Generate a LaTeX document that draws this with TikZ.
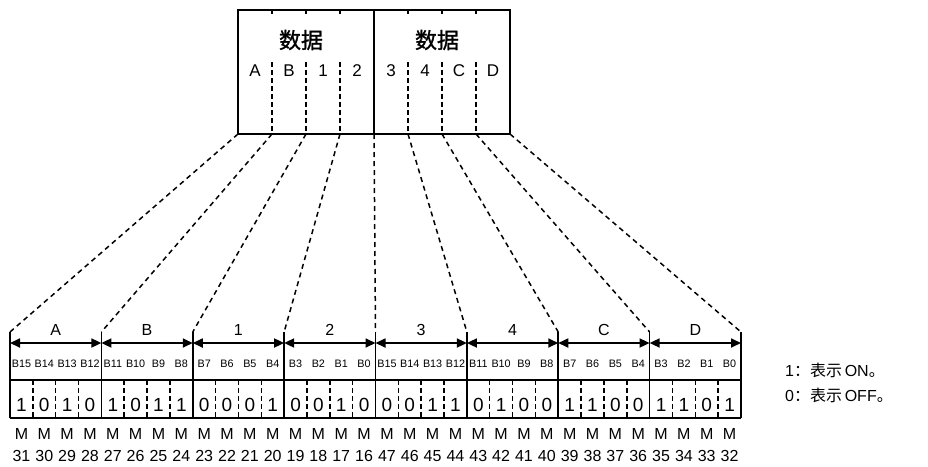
\documentclass[tikz,border=0pt]{standalone}
\usepackage{fontspec}
\setmainfont{Liberation Sans}
\newfontfamily\cjk{Noto Sans CJK SC}
\newfontfamily\cjkb[FakeBold=1.2]{Noto Sans CJK SC}
\usetikzlibrary{arrows.meta}
\begin{document}
\begin{tikzpicture}[x=1pt,y=-1pt,
  frame/.style={line width=1.7pt},
  dsh/.style={line width=1.5pt,dash pattern=on 4.5pt off 3.5pt},
  vdsh/.style={line width=1.5pt,dash pattern=on 5pt off 4pt},
  txt/.style={inner sep=0pt,anchor=center},
  big/.style={txt,font=\cjkb\fontsize{22}{22}\selectfont},
  boxlbl/.style={txt,font=\fontsize{17}{17}\selectfont},
  grplbl/.style={txt,font=\fontsize{16}{16}\selectfont},
  bitlbl/.style={txt,font=\fontsize{10.8}{10.8}\selectfont},
  vallbl/.style={txt,font=\fontsize{19}{19}\selectfont},
  mlbl/.style={txt,font=\fontsize{16}{16}\selectfont},
  leg/.style={inner sep=0pt,anchor=west,font=\fontsize{16}{16}\selectfont},
  dblarrow/.style={line width=1.7pt,{Triangle[length=10pt,width=9pt]}-{Triangle[length=10pt,width=9pt]}}
]
\useasboundingbox (0,0) rectangle (928,466);

% top box
\node[draw,frame,minimum width=272pt,minimum height=124pt,inner sep=0pt] (box) at (374,72) {};
\foreach \i in {0,...,8} {
  \coordinate (t\i) at ({238+34*\i},134);
  \coordinate (tt\i) at ({238+34*\i},10);
  \coordinate (tk\i) at ({238+34*\i},14);
  \coordinate (tm\i) at ({238+34*\i},62);
}
\foreach \i in {1,2,3,5,6,7} {
  \draw[line width=1.5pt] (tt\i) -- (tk\i);
  \draw[dsh] (tm\i) -- (t\i);
}
\draw[frame] (tt4) -- (t4);
\node[big] (d1) at (301,40) {数据};
\node[big] (d2) at (437,40) {数据};
\foreach \l [count=\k from 0] in {A,B,1,2,3,4,C,D}
  \node[boxlbl] (bl\k) at ({255+34*\k},71) {\l};

% bottom table coordinates
\foreach \i in {0,...,8} {
  \coordinate (b\i) at ({10+91.375*\i},332);
  \coordinate (bb\i) at ({10+91.375*\i},418);
}
\coordinate (hl) at (10,380);
\coordinate (hr) at (741,380);
\draw[frame] (hl) -- (hr);
\draw[frame] (bb0) -- (bb8);
\foreach \i in {0,...,8} \draw[frame] (b\i) -- (bb\i);

% connectors
\foreach \i in {0,...,8} \draw[vdsh] (t\i) -- (b\i);

% arrows and group labels
\foreach \l [count=\g from 0] in {A,B,1,2,3,4,C,D} {
  \coordinate (al\g) at ({10+91.375*\g},343);
  \coordinate (ar\g) at ({10+91.375*(\g+1)},343);
  \draw[dblarrow] (al\g) -- (ar\g);
  \node[grplbl] (gl\g) at ({10+91.375*(\g+0.5)},330) {\l};
}

% bits
\foreach \v [count=\c from 0] in {1,0,1,0, 1,0,1,1, 0,0,0,1, 0,0,1,0, 0,0,1,1, 0,1,0,0, 1,1,0,0, 1,1,0,1} {
  \pgfmathtruncatemacro{\bitno}{15-mod(\c,16)}
  \pgfmathtruncatemacro{\mno}{\c<16 ? 31-\c : 63-\c}
  \pgfmathsetmacro{\cx}{10+22.84375*(\c+0.5)}
  \node[bitlbl] (bn\c) at (\cx,364) {B\bitno};
  \node[vallbl] (vl\c) at (\cx,405) {\v};
  \node[mlbl] (mm\c) at (\cx,434) {M};
  \node[mlbl] (mn\c) at (\cx,456) {\mno};
  \pgfmathtruncatemacro{\md}{mod(\c,4)}
  \ifnum\md>0
    \coordinate (vt\c) at ({10+22.84375*\c},380);
    \coordinate (vb\c) at ({10+22.84375*\c},418);
    \draw[dsh] (vt\c) -- (vb\c);
  \fi
}

% legend
\node[leg] (lg1) at (785,370) {1{\cjk：表示}\,ON{\cjk。}};
\node[leg] (lg2) at (785,395) {0{\cjk：表示}\,OFF{\cjk。}};
\end{tikzpicture}
\end{document}
